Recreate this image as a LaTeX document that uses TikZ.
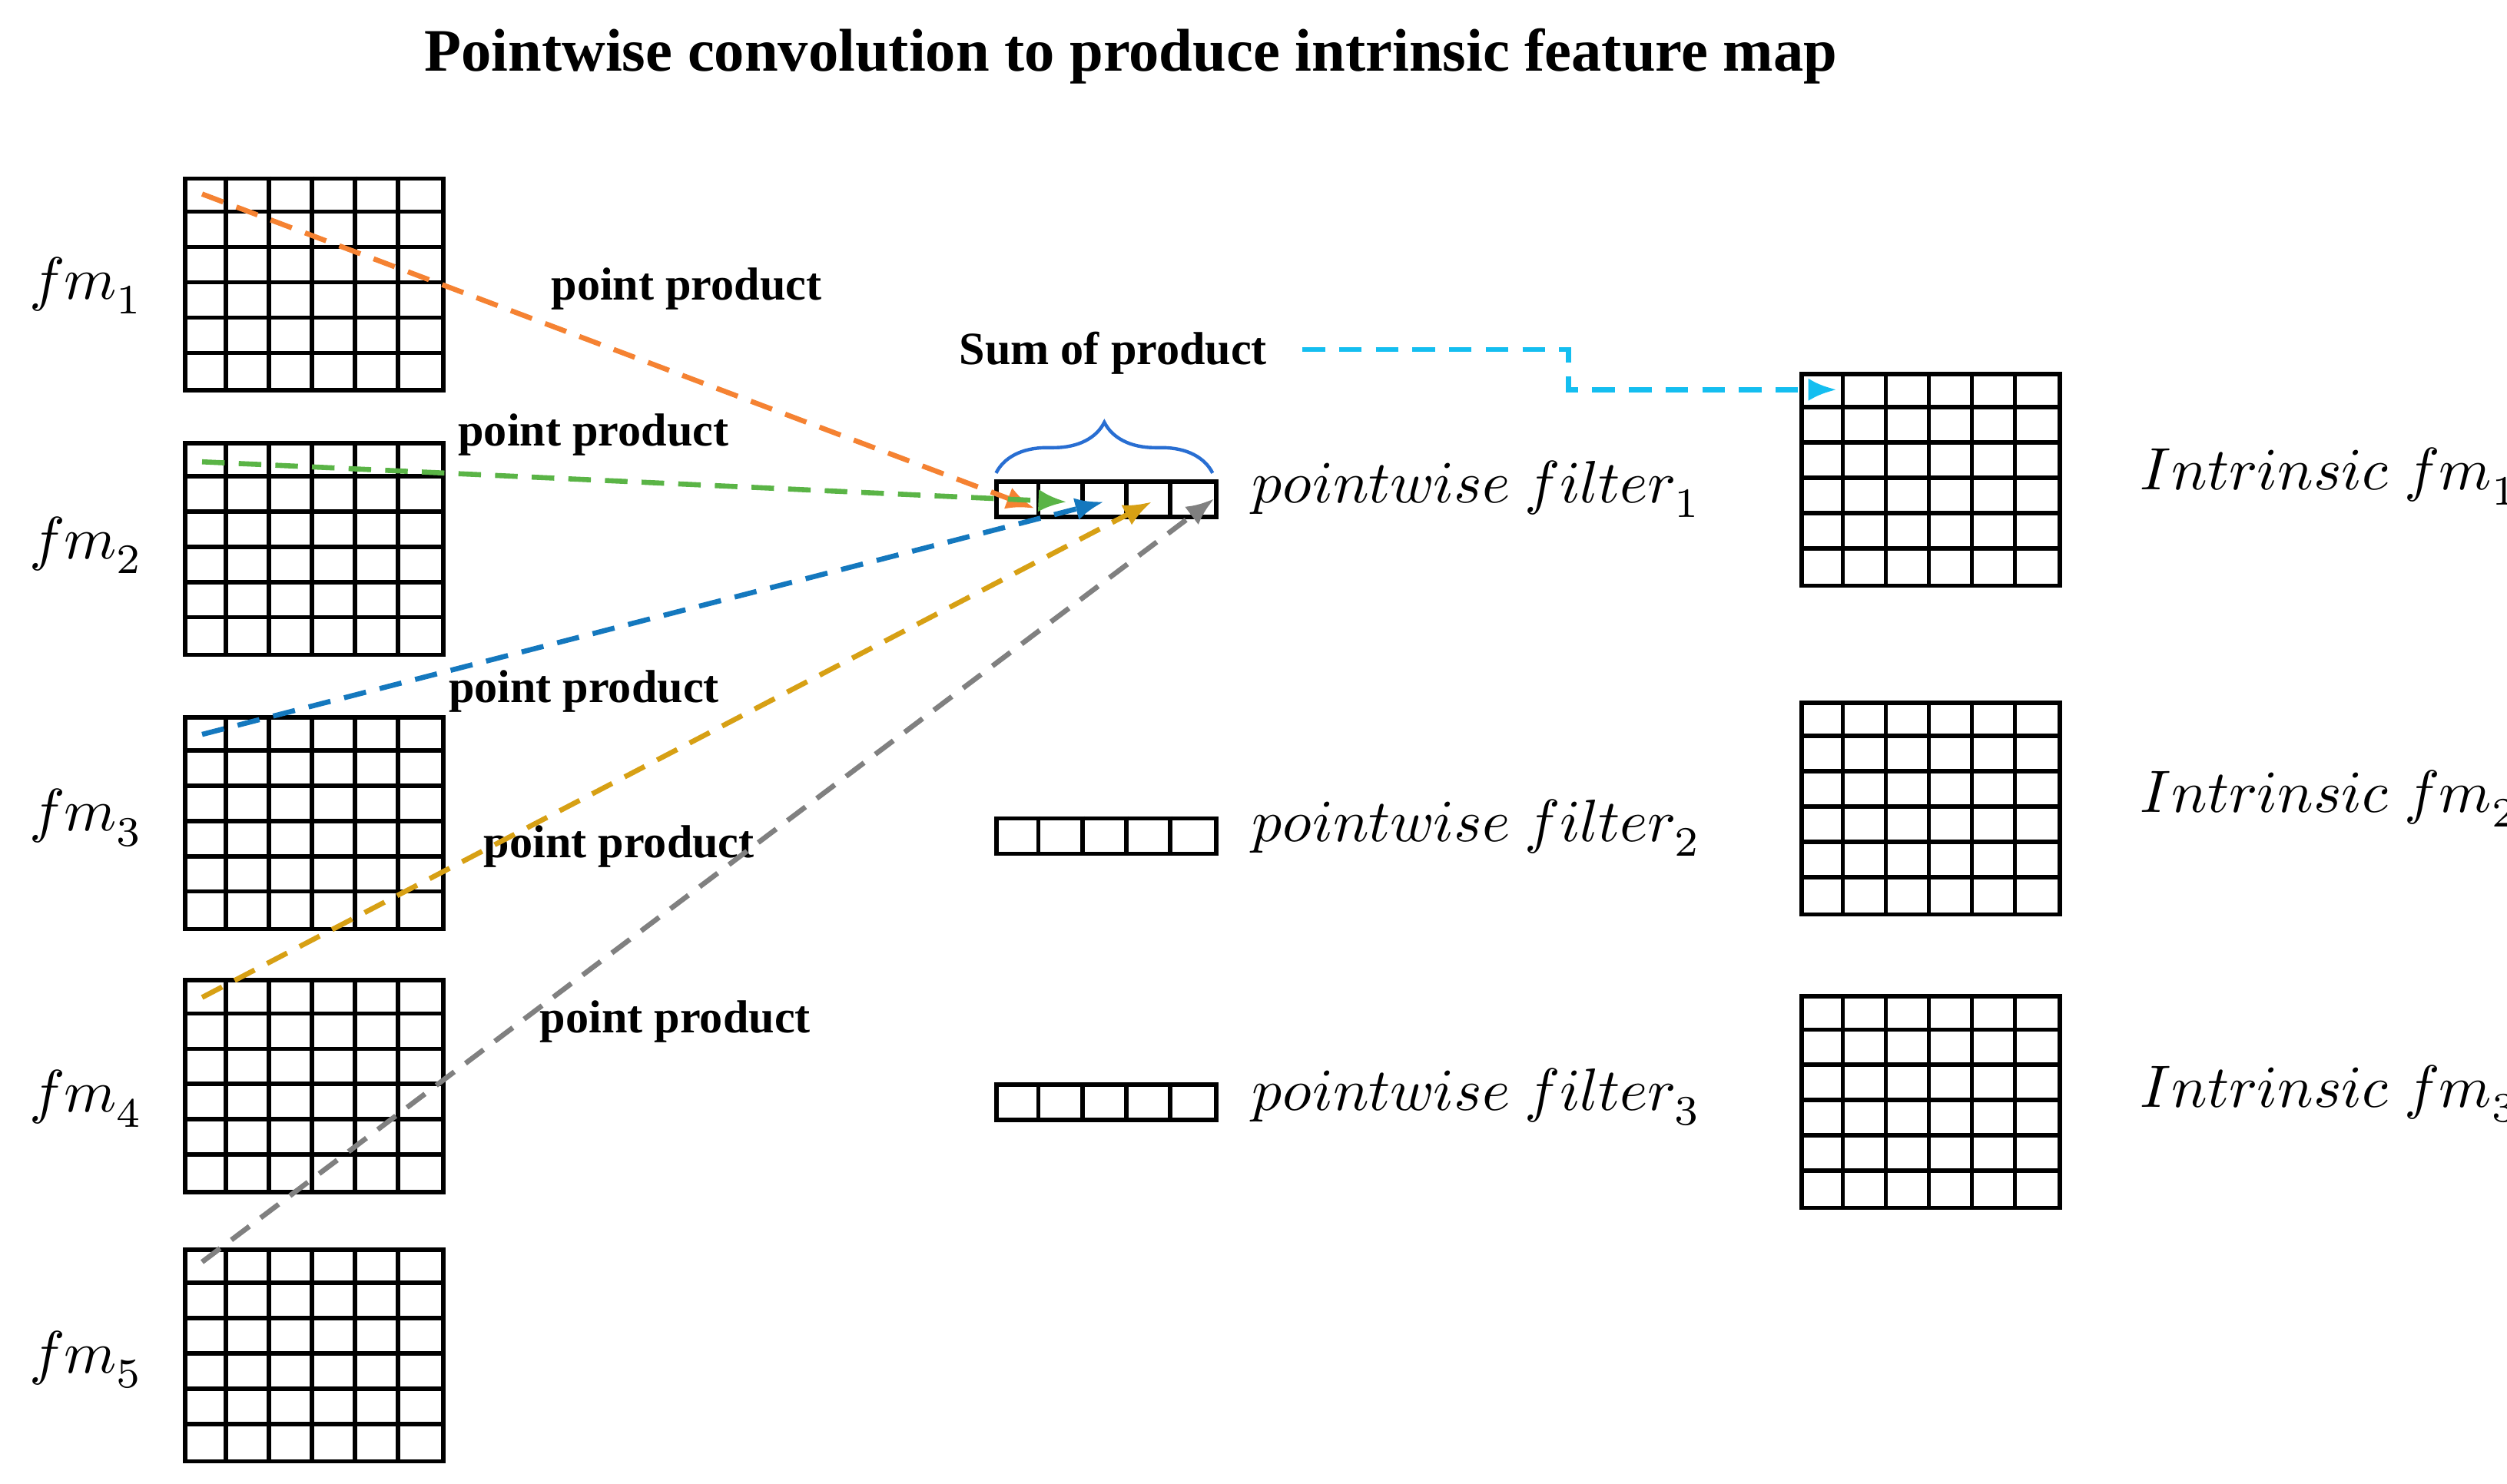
\documentclass[tikz,border=0pt]{standalone}
\usepackage{fontspec}
\setmainfont{Liberation Serif}
\usepackage{unicode-math}
\usetikzlibrary{decorations.pathreplacing,arrows.meta}
\begin{document}
\begin{tikzpicture}[x=0.01cm,y=-0.01cm,
  gl/.style={line width=0.75pt},
  pp/.style={font=\fontsize{8.2}{10}\selectfont\bfseries},
  ml/.style={font=\fontsize{10.6}{12}\selectfont},
  da/.style={dashed,line width=0.9pt,dash pattern=on 4pt off 2.5pt,-{Latex[length=5pt,width=4pt]}}]
\useasboundingbox (0,0) rectangle (1563,925);
\fill[white] (0,0) rectangle (1563,925);
\node[font=\fontsize{10.7}{13}\selectfont\bfseries] (title) at (705,35) {Pointwise convolution to produce intrinsic feature map};
% grids
\foreach \n/\x/\y in {g1/114/110,g2/114/275,g3/114/446,g4/114/610,g5/114/778,r1/1122/232,r2/1122/437,r3/1122/620}{
  \node[draw,gl,minimum width=161*0.01cm,minimum height=132*0.01cm,anchor=north west,inner sep=0] (\n) at (\x,\y) {};
  \foreach \i in {1,...,5}{
    \draw[gl] (\x+\i*26.83,\y) -- (\x+\i*26.83,\y+132);
    \draw[gl] (\x,\y+\i*22) -- (\x+161,\y+\i*22);}
}
\foreach \n/\y in {f1/299,f2/509,f3/675}{
  \node[draw,gl,minimum width=137*0.01cm,minimum height=22*0.01cm,anchor=north west,inner sep=0] (\n) at (620,\y) {};
  \foreach \i in {1,...,4}{\draw[gl] (620+\i*27.4,\y) -- (620+\i*27.4,\y+22);}
}
% labels
\foreach \i/\y in {1/178,2/340,3/510,4/685,5/848}{\node[ml,anchor=west] at (6,\y) {$fm_{\i}$};}
\foreach \i/\y in {1/305,2/516,3/684}{\node[ml,anchor=west] at (768,\y) {$pointwise\ filter_{\i}$};}
\foreach \i/\y in {1/297,2/498,3/682}{\node[ml,anchor=west] at (1322,\y) {$Intrinsic\ fm_{\i}$};}
\node[pp] at (428,180) {point product};
\node[pp] at (370,271) {point product};
\node[pp] at (364,431) {point product};
\node[pp] at (386,528) {point product};
\node[pp] at (421,637) {point product};
\node[pp] (sum) at (694,220) {Sum of product};
% brace
\draw[color={rgb,255:red,40;green,110;blue,210},line width=0.6pt,decorate,decoration={brace,amplitude=9pt}] (621,295) -- (756,295);
% arrows
\coordinate (a1) at (126,121); \coordinate (b1) at (645,317);
\coordinate (a2) at (126,288); \coordinate (b2) at (665,313);
\coordinate (a3) at (126,458); \coordinate (b3) at (688,313);
\coordinate (a4) at (126,622); \coordinate (b4) at (718,313);
\coordinate (a5) at (126,787); \coordinate (b5) at (757,311);
\draw[da,color={rgb,255:red,245;green,130;blue,50}] (a1) -- (b1);
\draw[da,color={rgb,255:red,90;green,180;blue,70}] (a2) -- (b2);
\draw[da,color={rgb,255:red,20;green,120;blue,190}] (a3) -- (b3);
\draw[da,color={rgb,255:red,215;green,160;blue,20}] (a4) -- (b4);
\draw[da,color={rgb,255:red,128;green,128;blue,128}] (a5) -- (b5);
\coordinate (c0) at (812,218); \coordinate (c1) at (1145,243);
\draw[da,color={rgb,255:red,20;green,190;blue,240}] (c0) -- (978,218) -- (978,243) -- (c1);
\end{tikzpicture}
\end{document}
